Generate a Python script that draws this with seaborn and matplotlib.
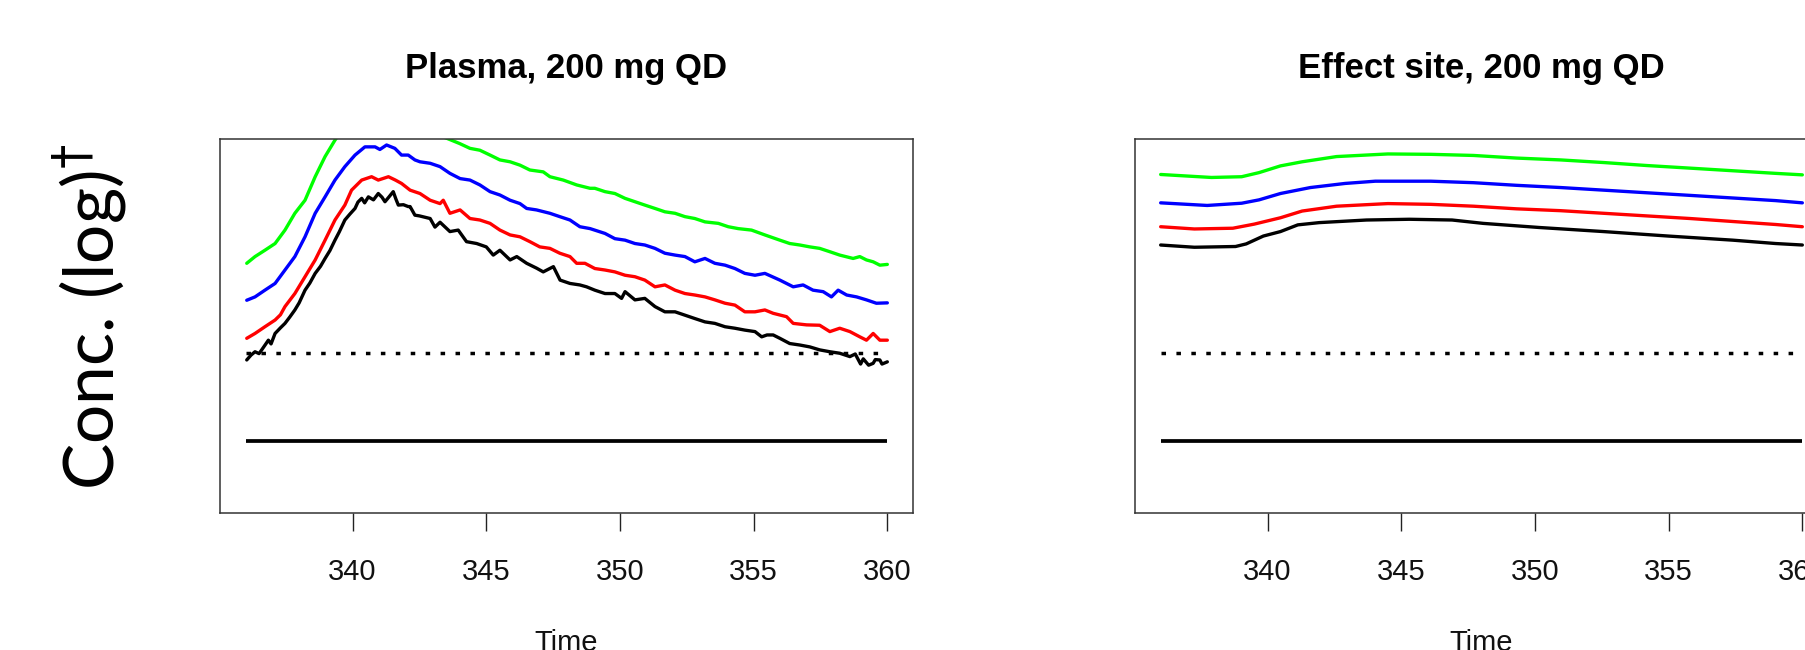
import numpy as np
import pandas as pd
import matplotlib
matplotlib.use("Agg")
import matplotlib.pyplot as plt
import seaborn as sns

# ---------------- data (y in arbitrary log units) ----------------
titles = ["Plasma, 200 mg QD", "Effect site, 200 mg QD"]
x_ticks = [340, 345, 350, 355, 360]
ref_levels = [4.28, 1.91]          # dotted threshold, solid threshold
ref_span = [336, 360]

# Plasma panel
pl_t_black = [336.04, 336.2, 336.35, 336.5, 336.6, 336.85, 336.95, 337.1, 337.3, 337.47, 337.65, 337.84,
              338.0, 338.22, 338.4, 338.6, 338.8, 338.97, 339.15, 339.34, 339.5, 339.71, 339.9, 340.09,
              340.2, 340.34, 340.45, 340.59, 340.78, 340.96, 341.1, 341.21, 341.35, 341.52, 341.62,
              341.71, 341.9, 342.08, 342.15, 342.33, 342.5, 342.9, 343.08, 343.27, 343.64, 343.95,
              344.26, 344.64, 345.0, 345.26, 345.51, 345.89, 346.14, 346.51, 346.88, 347.13, 347.51,
              347.76, 348.13, 348.5, 348.75, 349.06, 349.44, 349.81, 350.06, 350.19, 350.56, 350.93,
              351.31, 351.68, 352.06, 352.43, 352.8, 353.18, 353.55, 353.93, 354.3, 354.67, 355.05,
              355.3, 355.5, 355.73, 355.98, 356.35, 356.73, 357.1, 357.47, 357.85, 358.22, 358.6,
              358.8, 359.0, 359.1, 359.3, 359.47, 359.55, 359.72, 359.8, 360.0]
pl_c_black = [4.09, 4.22, 4.31, 4.26, 4.36, 4.62, 4.52, 4.80, 4.95, 5.07, 5.24, 5.43,
              5.62, 5.96, 6.15, 6.41, 6.60, 6.81, 7.02, 7.30, 7.52, 7.84, 8.00, 8.15,
              8.32, 8.42, 8.30, 8.46, 8.38, 8.55, 8.45, 8.33, 8.45, 8.60, 8.40,
              8.24, 8.25, 8.20, 8.20, 7.97, 7.95, 7.88, 7.65, 7.78, 7.53, 7.57,
              7.26, 7.21, 7.12, 6.90, 7.03, 6.77, 6.86, 6.68, 6.55, 6.45, 6.59,
              6.23, 6.14, 6.10, 6.05, 5.96, 5.87, 5.87, 5.74, 5.92, 5.70, 5.74,
              5.52, 5.38, 5.38, 5.29, 5.20, 5.11, 5.07, 4.98, 4.94, 4.89, 4.85,
              4.71, 4.76, 4.76, 4.67, 4.53, 4.49, 4.44, 4.36, 4.31, 4.27, 4.18,
              4.25, 3.98, 4.12, 3.95, 4.00, 4.10, 4.09, 3.98, 4.04]

pl_t_red = [336.04, 336.35, 336.72, 337.1, 337.3, 337.47, 337.84, 338.22, 338.6, 338.97, 339.34, 339.71,
            339.96, 340.34, 340.71, 340.96, 341.34, 341.6, 341.83, 342.15, 342.52, 342.9, 343.27, 343.39,
            343.64, 344.02, 344.39, 344.76, 345.14, 345.51, 345.89, 346.26, 346.63, 347.0, 347.38,
            347.75, 348.13, 348.38, 348.69, 349.06, 349.44, 349.81, 350.19, 350.56, 350.93, 351.31,
            351.68, 352.06, 352.43, 352.8, 353.18, 353.55, 353.93, 354.3, 354.67, 355.05, 355.42,
            355.73, 356.23, 356.48, 356.98, 357.47, 357.85, 358.22, 358.6, 358.97, 359.22, 359.47,
            359.72, 360.0]
pl_c_red = [4.67, 4.80, 4.98, 5.16, 5.30, 5.52, 5.87, 6.32, 6.77, 7.30, 7.84, 8.24,
            8.64, 8.91, 9.00, 8.91, 9.00, 8.91, 8.82, 8.64, 8.55, 8.37, 8.28, 8.37,
            8.02, 8.11, 7.88, 7.84, 7.75, 7.57, 7.44, 7.39, 7.26, 7.12, 7.08,
            6.95, 6.86, 6.68, 6.68, 6.54, 6.50, 6.45, 6.36, 6.32, 6.23, 6.05,
            6.10, 5.96, 5.87, 5.83, 5.78, 5.70, 5.61, 5.56, 5.38, 5.38, 5.43,
            5.34, 5.25, 5.07, 5.03, 5.02, 4.85, 4.94, 4.85, 4.71, 4.62, 4.80,
            4.62, 4.62]

pl_t_blue = [336.04, 336.35, 336.72, 337.1, 337.47, 337.84, 338.22, 338.6, 338.97, 339.34, 339.71, 340.09,
             340.46, 340.84, 341.02, 341.27, 341.58, 341.83, 342.08, 342.33, 342.52, 342.9, 343.27,
             343.64, 344.02, 344.39, 344.76, 345.14, 345.51, 345.89, 346.26, 346.51, 346.88, 347.38,
             347.75, 348.13, 348.5, 348.88, 349.44, 349.81, 350.19, 350.56, 350.93, 351.31, 351.68,
             352.06, 352.43, 352.8, 353.18, 353.55, 353.93, 354.3, 354.67, 355.05, 355.42, 355.98,
             356.23, 356.48, 356.85, 357.22, 357.6, 357.91, 358.16, 358.48, 358.85, 359.22, 359.59, 360.0]
pl_c_blue = [5.69, 5.78, 5.96, 6.14, 6.50, 6.86, 7.39, 8.02, 8.46, 8.91, 9.27, 9.58,
             9.80, 9.80, 9.73, 9.85, 9.76, 9.58, 9.58, 9.45, 9.40, 9.36, 9.27,
             9.09, 8.95, 8.91, 8.78, 8.60, 8.51, 8.37, 8.28, 8.15, 8.11, 8.02,
             7.93, 7.84, 7.66, 7.61, 7.48, 7.34, 7.30, 7.21, 7.17, 7.08, 6.95,
             6.90, 6.86, 6.72, 6.81, 6.68, 6.63, 6.54, 6.41, 6.36, 6.41, 6.23,
             6.14, 6.05, 6.10, 5.96, 5.92, 5.78, 5.96, 5.83, 5.78, 5.70, 5.61, 5.62]

pl_t_green = [336.04, 336.35, 336.72, 337.1, 337.47, 337.84, 338.22, 338.6, 338.97, 339.34, 339.7, 340.1,
              340.5, 340.9, 341.3, 341.7, 342.1, 342.5, 342.9, 343.2, 343.52, 344.0, 344.39, 344.76,
              345.14, 345.51, 345.89, 346.26, 346.63, 347.13, 347.38, 347.88, 348.38, 348.88, 349.06,
              349.44, 349.81, 350.19, 350.56, 350.93, 351.31, 351.68, 352.06, 352.43, 352.8, 353.18,
              353.68, 354.05, 354.42, 354.92, 355.42, 355.98, 356.35, 356.73, 357.1, 357.47, 357.85,
              358.22, 358.72, 358.97, 359.22, 359.47, 359.72, 360.0]
pl_c_green = [6.68, 6.86, 7.03, 7.21, 7.57, 8.02, 8.37, 9.00, 9.54, 9.98, 10.35, 10.65,
              10.85, 10.95, 10.98, 10.90, 10.70, 10.50, 10.28, 10.12, 10.03, 9.89, 9.76, 9.71,
              9.58, 9.45, 9.40, 9.31, 9.18, 9.13, 9.00, 8.91, 8.78, 8.69, 8.69,
              8.60, 8.55, 8.42, 8.33, 8.24, 8.15, 8.06, 8.02, 7.93, 7.88, 7.79,
              7.75, 7.66, 7.61, 7.57, 7.44, 7.30, 7.21, 7.17, 7.12, 7.08, 6.99,
              6.90, 6.81, 6.86, 6.77, 6.72, 6.63, 6.65]

# Effect-site panel
es_t_green = [336, 337.9, 339.03, 339.68, 340.48, 341.29, 342.58, 344.5, 346.1, 347.7, 349.3, 350.96,
              352.57, 354.18, 355.8, 357.4, 359.0, 360]
es_c_green = [9.06, 8.98, 9.00, 9.11, 9.29, 9.40, 9.54, 9.61, 9.60, 9.57, 9.50, 9.45,
              9.38, 9.30, 9.23, 9.16, 9.09, 9.05]
es_t_blue = [336, 337.74, 339.03, 339.68, 340.48, 341.6, 342.9, 344.03, 346.1, 347.7, 349.3, 350.96,
             352.57, 354.18, 355.8, 357.4, 359.0, 360]
es_c_blue = [8.30, 8.23, 8.29, 8.38, 8.55, 8.71, 8.82, 8.88, 8.88, 8.84, 8.77, 8.71,
             8.64, 8.57, 8.50, 8.43, 8.36, 8.30]
es_t_red = [336, 337.26, 338.7, 339.5, 340.48, 341.29, 342.58, 344.5, 346.1, 347.7, 349.3, 350.96,
            352.57, 354.18, 355.8, 357.4, 359.0, 360]
es_c_red = [7.66, 7.60, 7.62, 7.73, 7.90, 8.08, 8.21, 8.28, 8.26, 8.21, 8.14, 8.09,
            8.02, 7.95, 7.88, 7.80, 7.72, 7.66]
es_t_black = [336, 337.26, 338.8, 339.2, 339.84, 340.48, 341.13, 341.93, 343.7, 345.3, 346.9, 348.06,
              350.15, 352.57, 354.99, 357.4, 359.0, 360]
es_c_black = [7.17, 7.11, 7.13, 7.20, 7.41, 7.53, 7.71, 7.77, 7.84, 7.86, 7.84, 7.75,
              7.64, 7.53, 7.41, 7.30, 7.21, 7.17]

series_order = ["black", "red", "blue", "green"]
palette = {"black": "#000000", "red": "#FF0000", "blue": "#0000FF", "green": "#00FF00"}

def frame(parts):
    rows = []
    for name, t, c in parts:
        rows.append(pd.DataFrame({"time": t, "conc": c, "series": name}))
    return pd.concat(rows, ignore_index=True)

plasma_df = frame([("black", pl_t_black, pl_c_black), ("red", pl_t_red, pl_c_red),
                   ("blue", pl_t_blue, pl_c_blue), ("green", pl_t_green, pl_c_green)])
effect_df = frame([("black", es_t_black, es_c_black), ("red", es_t_red, es_c_red),
                   ("blue", es_t_blue, es_c_blue), ("green", es_t_green, es_c_green)])

# ---------------- figure ----------------
sns.set_style("white")
plt.rcParams["font.family"] = ["Liberation Sans", "DejaVu Sans"]
plt.rcParams["text.color"] = "black"

W, H = 1806, 650
fig = plt.figure(figsize=(W / 100, H / 100), dpi=100)

ax_w = 693 / W
ax_h = 373.2 / H
ax_b = (H - 512.6) / H
axes = [fig.add_axes([220 / W, ax_b, ax_w, ax_h]),
        fig.add_axes([1135 / W, ax_b, ax_w, ax_h])]

for ax, df, title in zip(axes, [plasma_df, effect_df], titles):
    sns.lineplot(data=df, x="time", y="conc", hue="series", hue_order=series_order,
                 palette=palette, estimator=None, legend=False, linewidth=2.4, ax=ax)
    ax.hlines(ref_levels[0], ref_span[0], ref_span[1], colors="black", linewidth=2.5,
              linestyles=(0, (1.3, 3.0)))
    ax.hlines(ref_levels[1], ref_span[0], ref_span[1], colors="black", linewidth=2.7)
    ax.set_xlim(335.04, 360.96)
    ax.set_ylim(0, 10)
    ax.set_xticks(x_ticks)
    ax.set_xticklabels([str(v) for v in x_ticks])
    ax.set_yticks([])
    ax.set_ylabel("")
    ax.tick_params(axis="x", direction="out", length=13, width=1.0, pad=19.5,
                   labelsize=21, colors="#222222", labelcolor="#111111", bottom=True)
    ax.set_xlabel("Time", fontsize=21, labelpad=31, color="#111111")
    ax.set_title(title, fontsize=25, fontweight="bold", pad=44, color="black")
    for sp in ax.spines.values():
        sp.set_visible(True)
        sp.set_color("#333333")
        sp.set_linewidth(1.1)

fig.text(90 / W, 1 - 317 / H, r"Conc. (log)$^{\dagger}$", rotation=90, ha="center", va="center",
         fontsize=50, color="black", family=["Lato", "DejaVu Sans"])

fig.savefig("out.png", dpi=100)
